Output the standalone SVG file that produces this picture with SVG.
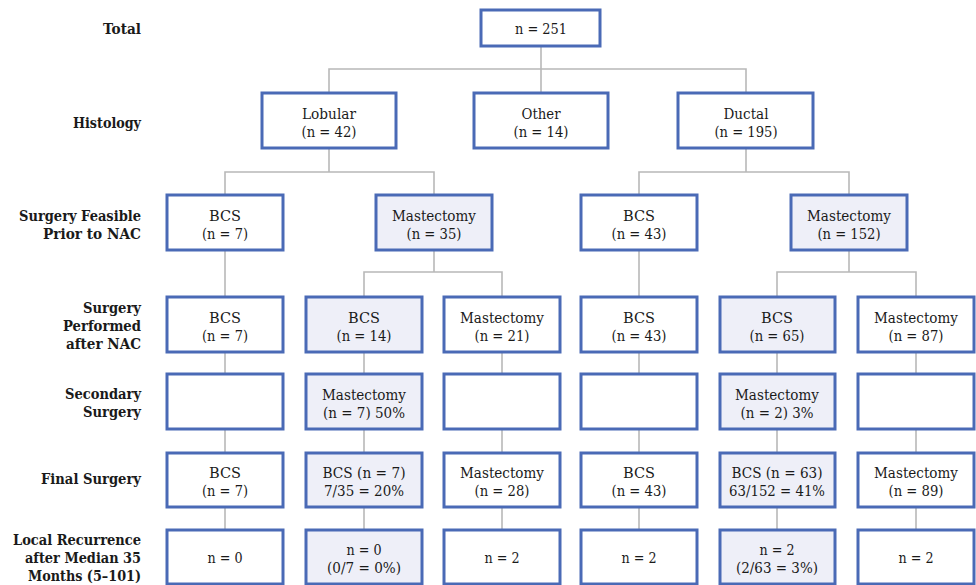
<svg xmlns="http://www.w3.org/2000/svg" width="976" height="585" viewBox="0 0 976 585">
<style>
.bx{fill:#ffffff;stroke:#4a6ab6;stroke-width:3}
.sh{fill:#eeeff8}
text{font-family:'DejaVu Serif','Liberation Serif','Times New Roman',serif;font-size:15px;fill:#1a1a1a}
.t{text-anchor:middle}
.lb{font-weight:bold;text-anchor:end}
.cn{fill:none;stroke:#b8b8b8;stroke-width:1.6}
</style>
<rect width="976" height="585" fill="#ffffff"/>
<g id="connectors">
<path class="cn" d="M541 46V93M329 93V69H746V93"/>
<path class="cn" d="M329 148V172M225 195V172H434V195"/>
<path class="cn" d="M746 148V172M639 195V172H849V195"/>
<path class="cn" d="M225 250V297M639 250V297"/>
<path class="cn" d="M434 250V272M364 297V272H502V297"/>
<path class="cn" d="M849 250V272M777 297V272H916V297"/>
<path class="cn" d="M225 352V374M364 352V374M502 352V374M639 352V374M777 352V374M916 352V374"/>
<path class="cn" d="M225 429V453M364 429V453M502 429V453M639 429V453M777 429V453M916 429V453"/>
<path class="cn" d="M225 507V530M364 507V530M502 507V530M639 507V530M777 507V530M916 507V530"/>
</g>
<g id="labels" lengthAdjust="spacingAndGlyphs">
<text class="lb" x="141" y="34" textLength="38" lengthAdjust="spacingAndGlyphs">Total</text>
<text class="lb" x="141" y="128" textLength="68" lengthAdjust="spacingAndGlyphs">Histology</text>
<text class="lb" x="141" y="221" textLength="122" lengthAdjust="spacingAndGlyphs">Surgery Feasible</text>
<text class="lb" x="141" y="239" textLength="98" lengthAdjust="spacingAndGlyphs">Prior to NAC</text>
<text class="lb" x="141" y="313" textLength="58" lengthAdjust="spacingAndGlyphs">Surgery</text>
<text class="lb" x="141" y="331" textLength="78" lengthAdjust="spacingAndGlyphs">Performed</text>
<text class="lb" x="141" y="349" textLength="75" lengthAdjust="spacingAndGlyphs">after NAC</text>
<text class="lb" x="141" y="399" textLength="76" lengthAdjust="spacingAndGlyphs">Secondary</text>
<text class="lb" x="141" y="417" textLength="58" lengthAdjust="spacingAndGlyphs">Surgery</text>
<text class="lb" x="141" y="484" textLength="100" lengthAdjust="spacingAndGlyphs">Final Surgery</text>
<text class="lb" x="141" y="545" textLength="128" lengthAdjust="spacingAndGlyphs">Local Recurrence</text>
<text class="lb" x="141" y="563" textLength="116" lengthAdjust="spacingAndGlyphs">after Median 35</text>
<text class="lb" x="141" y="581" textLength="113" lengthAdjust="spacingAndGlyphs">Months (5–101)</text>
</g>
<g id="total"><rect class="bx" x="481" y="10" width="119" height="36"/><text class="t" x="541" y="34" textLength="52" lengthAdjust="spacingAndGlyphs">n = 251</text></g>
<g id="lobular"><rect class="bx" x="262" y="93" width="134" height="55"/><text class="t" x="329" y="119" textLength="54" lengthAdjust="spacingAndGlyphs">Lobular</text><text class="t" x="329" y="137" textLength="55" lengthAdjust="spacingAndGlyphs">(n = 42)</text></g>
<g id="other"><rect class="bx" x="474" y="93" width="134" height="55"/><text class="t" x="541" y="119" textLength="39" lengthAdjust="spacingAndGlyphs">Other</text><text class="t" x="541" y="137" textLength="55" lengthAdjust="spacingAndGlyphs">(n = 14)</text></g>
<g id="ductal"><rect class="bx" x="678" y="93" width="135" height="55"/><text class="t" x="746" y="119" textLength="45" lengthAdjust="spacingAndGlyphs">Ductal</text><text class="t" x="746" y="137" textLength="63" lengthAdjust="spacingAndGlyphs">(n = 195)</text></g>

<g id="feas-bcs-l"><rect class="bx" x="167" y="195" width="116" height="55"/><text class="t" x="225" y="221" textLength="32" lengthAdjust="spacingAndGlyphs">BCS</text><text class="t" x="225" y="239" textLength="46" lengthAdjust="spacingAndGlyphs">(n = 7)</text></g>
<g id="feas-mast-l"><rect class="bx sh" x="376" y="195" width="116" height="55"/><text class="t" x="434" y="221" textLength="84" lengthAdjust="spacingAndGlyphs">Mastectomy</text><text class="t" x="434" y="239" textLength="55" lengthAdjust="spacingAndGlyphs">(n = 35)</text></g>
<g id="feas-bcs-d"><rect class="bx" x="581" y="195" width="116" height="55"/><text class="t" x="639" y="221" textLength="32" lengthAdjust="spacingAndGlyphs">BCS</text><text class="t" x="639" y="239" textLength="55" lengthAdjust="spacingAndGlyphs">(n = 43)</text></g>
<g id="feas-mast-d"><rect class="bx sh" x="791" y="195" width="116" height="55"/><text class="t" x="849" y="221" textLength="84" lengthAdjust="spacingAndGlyphs">Mastectomy</text><text class="t" x="849" y="239" textLength="63" lengthAdjust="spacingAndGlyphs">(n = 152)</text></g>

<g id="perf-1"><rect class="bx" x="167" y="297" width="116" height="55"/><text class="t" x="225" y="323" textLength="32" lengthAdjust="spacingAndGlyphs">BCS</text><text class="t" x="225" y="341" textLength="46" lengthAdjust="spacingAndGlyphs">(n = 7)</text></g>
<g id="perf-2"><rect class="bx sh" x="306" y="297" width="116" height="55"/><text class="t" x="364" y="323" textLength="32" lengthAdjust="spacingAndGlyphs">BCS</text><text class="t" x="364" y="341" textLength="55" lengthAdjust="spacingAndGlyphs">(n = 14)</text></g>
<g id="perf-3"><rect class="bx" x="444" y="297" width="116" height="55"/><text class="t" x="502" y="323" textLength="84" lengthAdjust="spacingAndGlyphs">Mastectomy</text><text class="t" x="502" y="341" textLength="55" lengthAdjust="spacingAndGlyphs">(n = 21)</text></g>
<g id="perf-4"><rect class="bx" x="581" y="297" width="116" height="55"/><text class="t" x="639" y="323" textLength="32" lengthAdjust="spacingAndGlyphs">BCS</text><text class="t" x="639" y="341" textLength="55" lengthAdjust="spacingAndGlyphs">(n = 43)</text></g>
<g id="perf-5"><rect class="bx sh" x="720" y="297" width="115" height="55"/><text class="t" x="777" y="323" textLength="32" lengthAdjust="spacingAndGlyphs">BCS</text><text class="t" x="777" y="341" textLength="55" lengthAdjust="spacingAndGlyphs">(n = 65)</text></g>
<g id="perf-6"><rect class="bx" x="858" y="297" width="116" height="55"/><text class="t" x="916" y="323" textLength="84" lengthAdjust="spacingAndGlyphs">Mastectomy</text><text class="t" x="916" y="341" textLength="55" lengthAdjust="spacingAndGlyphs">(n = 87)</text></g>

<g id="sec-1"><rect class="bx" x="167" y="374" width="116" height="55"/></g>
<g id="sec-2"><rect class="bx sh" x="306" y="374" width="116" height="55"/><text class="t" x="364" y="400" textLength="84" lengthAdjust="spacingAndGlyphs">Mastectomy</text><text class="t" x="364" y="418" textLength="82" lengthAdjust="spacingAndGlyphs">(n = 7) 50%</text></g>
<g id="sec-3"><rect class="bx" x="444" y="374" width="116" height="55"/></g>
<g id="sec-4"><rect class="bx" x="581" y="374" width="116" height="55"/></g>
<g id="sec-5"><rect class="bx sh" x="720" y="374" width="115" height="55"/><text class="t" x="777" y="400" textLength="84" lengthAdjust="spacingAndGlyphs">Mastectomy</text><text class="t" x="777" y="418" textLength="73" lengthAdjust="spacingAndGlyphs">(n = 2) 3%</text></g>
<g id="sec-6"><rect class="bx" x="858" y="374" width="116" height="55"/></g>

<g id="fin-1"><rect class="bx" x="167" y="453" width="116" height="54"/><text class="t" x="225" y="478" textLength="32" lengthAdjust="spacingAndGlyphs">BCS</text><text class="t" x="225" y="496" textLength="46" lengthAdjust="spacingAndGlyphs">(n = 7)</text></g>
<g id="fin-2"><rect class="bx sh" x="306" y="453" width="116" height="54"/><text class="t" x="364" y="478" textLength="83" lengthAdjust="spacingAndGlyphs">BCS (n = 7)</text><text class="t" x="364" y="496" textLength="80" lengthAdjust="spacingAndGlyphs">7/35 = 20%</text></g>
<g id="fin-3"><rect class="bx" x="444" y="453" width="116" height="54"/><text class="t" x="502" y="478" textLength="84" lengthAdjust="spacingAndGlyphs">Mastectomy</text><text class="t" x="502" y="496" textLength="55" lengthAdjust="spacingAndGlyphs">(n = 28)</text></g>
<g id="fin-4"><rect class="bx" x="581" y="453" width="116" height="54"/><text class="t" x="639" y="478" textLength="32" lengthAdjust="spacingAndGlyphs">BCS</text><text class="t" x="639" y="496" textLength="55" lengthAdjust="spacingAndGlyphs">(n = 43)</text></g>
<g id="fin-5"><rect class="bx sh" x="720" y="453" width="115" height="54"/><text class="t" x="777" y="478" textLength="91" lengthAdjust="spacingAndGlyphs">BCS (n = 63)</text><text class="t" x="777" y="496" textLength="96" lengthAdjust="spacingAndGlyphs">63/152 = 41%</text></g>
<g id="fin-6"><rect class="bx" x="858" y="453" width="116" height="54"/><text class="t" x="916" y="478" textLength="84" lengthAdjust="spacingAndGlyphs">Mastectomy</text><text class="t" x="916" y="496" textLength="55" lengthAdjust="spacingAndGlyphs">(n = 89)</text></g>

<g id="rec-1"><rect class="bx" x="167" y="530" width="116" height="54"/><text class="t" x="225" y="563" textLength="35" lengthAdjust="spacingAndGlyphs">n = 0</text></g>
<g id="rec-2"><rect class="bx sh" x="306" y="530" width="116" height="54"/><text class="t" x="364" y="555" textLength="35" lengthAdjust="spacingAndGlyphs">n = 0</text><text class="t" x="364" y="573" textLength="74" lengthAdjust="spacingAndGlyphs">(0/7 = 0%)</text></g>
<g id="rec-3"><rect class="bx" x="444" y="530" width="116" height="54"/><text class="t" x="502" y="563" textLength="35" lengthAdjust="spacingAndGlyphs">n = 2</text></g>
<g id="rec-4"><rect class="bx" x="581" y="530" width="116" height="54"/><text class="t" x="639" y="563" textLength="35" lengthAdjust="spacingAndGlyphs">n = 2</text></g>
<g id="rec-5"><rect class="bx sh" x="720" y="530" width="115" height="54"/><text class="t" x="777" y="555" textLength="35" lengthAdjust="spacingAndGlyphs">n = 2</text><text class="t" x="777" y="573" textLength="82" lengthAdjust="spacingAndGlyphs">(2/63 = 3%)</text></g>
<g id="rec-6"><rect class="bx" x="858" y="530" width="116" height="54"/><text class="t" x="916" y="563" textLength="35" lengthAdjust="spacingAndGlyphs">n = 2</text></g>
</svg>
